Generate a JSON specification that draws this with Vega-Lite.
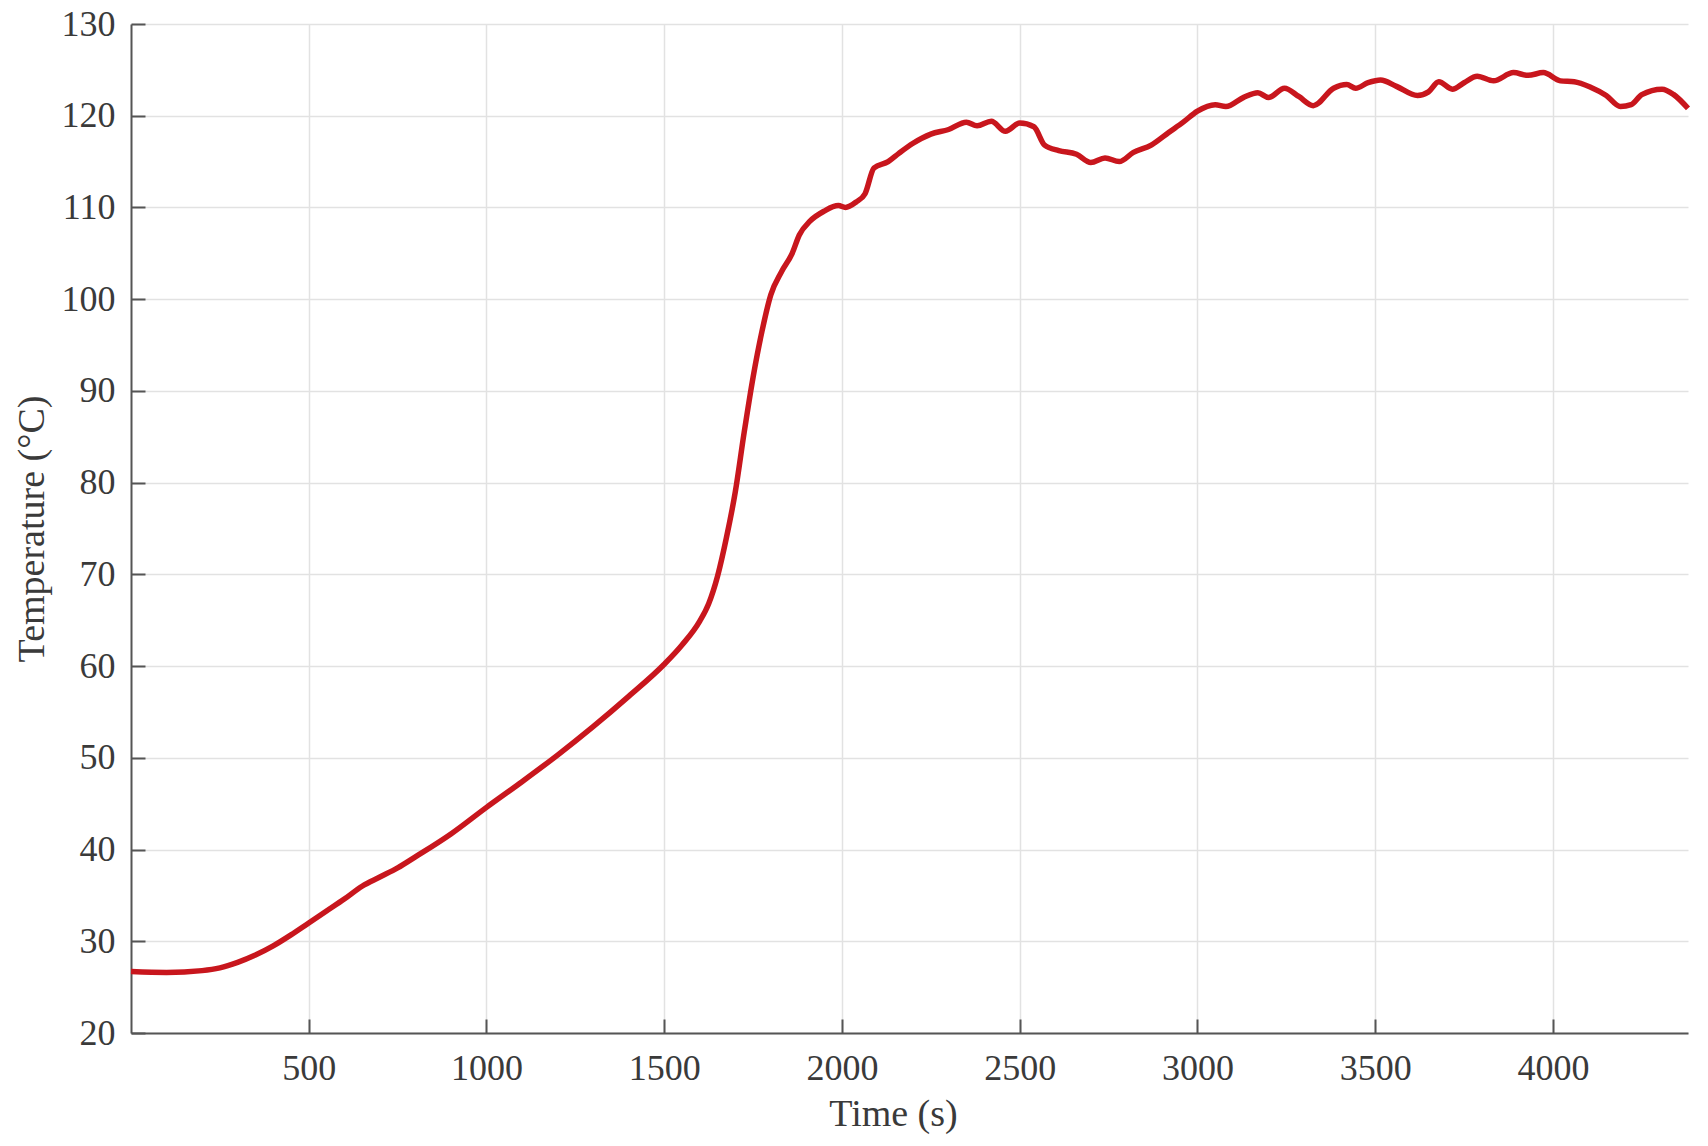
{
  "$schema": "https://vega.github.io/schema/vega-lite/v6.json",
  "autosize": "none",
  "padding": {"left": 131, "top": 24, "right": 20, "bottom": 113},
  "width": 1557,
  "height": 1009,
  "background": "white",
  "config": {
    "view": {"stroke": null},
    "axis": {
      "labelFont": "Liberation Serif",
      "titleFont": "Liberation Serif",
      "labelFontSize": 36,
      "titleFontSize": 38,
      "labelColor": "#3a3a3a",
      "titleColor": "#3a3a3a",
      "titleFontWeight": "normal",
      "domainColor": "#555555",
      "domainWidth": 2,
      "tickColor": "#555555",
      "tickWidth": 2,
      "tickSize": -14,
      "gridColor": "#e2e2e2",
      "gridWidth": 1.5
    }
  },
  "data": {
    "values": [
      {"t": 0, "T": 26.7}, {"t": 100, "T": 26.6}, {"t": 200, "T": 26.8}, {"t": 250, "T": 27.1},
      {"t": 300, "T": 27.7}, {"t": 350, "T": 28.5}, {"t": 400, "T": 29.5}, {"t": 450, "T": 30.7},
      {"t": 500, "T": 32.0}, {"t": 550, "T": 33.3}, {"t": 600, "T": 34.6}, {"t": 650, "T": 36.0},
      {"t": 700, "T": 37.0}, {"t": 750, "T": 38.0}, {"t": 800, "T": 39.2}, {"t": 900, "T": 41.7},
      {"t": 1000, "T": 44.6}, {"t": 1100, "T": 47.4}, {"t": 1200, "T": 50.3}, {"t": 1300, "T": 53.4},
      {"t": 1400, "T": 56.7}, {"t": 1500, "T": 60.2}, {"t": 1550, "T": 62.3}, {"t": 1600, "T": 64.9},
      {"t": 1625, "T": 66.8}, {"t": 1650, "T": 69.8}, {"t": 1675, "T": 74.0}, {"t": 1700, "T": 79.0},
      {"t": 1725, "T": 85.5}, {"t": 1750, "T": 91.5}, {"t": 1775, "T": 96.5}, {"t": 1800, "T": 100.5},
      {"t": 1830, "T": 103.0}, {"t": 1860, "T": 105.0}, {"t": 1880, "T": 107.0}, {"t": 1910, "T": 108.5},
      {"t": 1950, "T": 109.6}, {"t": 1990, "T": 110.2}, {"t": 2010, "T": 110.0}, {"t": 2040, "T": 110.6},
      {"t": 2065, "T": 111.5}, {"t": 2090, "T": 114.3}, {"t": 2130, "T": 115.0}, {"t": 2160, "T": 115.9},
      {"t": 2200, "T": 117.0}, {"t": 2250, "T": 118.0}, {"t": 2300, "T": 118.5}, {"t": 2350, "T": 119.3},
      {"t": 2380, "T": 118.9}, {"t": 2420, "T": 119.4}, {"t": 2460, "T": 118.3}, {"t": 2500, "T": 119.2},
      {"t": 2540, "T": 118.8}, {"t": 2570, "T": 116.8}, {"t": 2610, "T": 116.2}, {"t": 2660, "T": 115.8},
      {"t": 2700, "T": 114.9}, {"t": 2740, "T": 115.4}, {"t": 2780, "T": 115.0}, {"t": 2820, "T": 116.0},
      {"t": 2870, "T": 116.8}, {"t": 2920, "T": 118.2}, {"t": 2960, "T": 119.3}, {"t": 3000, "T": 120.5},
      {"t": 3050, "T": 121.2}, {"t": 3080, "T": 121.0}, {"t": 3130, "T": 122.0}, {"t": 3170, "T": 122.5},
      {"t": 3200, "T": 122.0}, {"t": 3245, "T": 123.0}, {"t": 3285, "T": 122.1}, {"t": 3326, "T": 121.1},
      {"t": 3383, "T": 123.0}, {"t": 3420, "T": 123.4}, {"t": 3445, "T": 123.0}, {"t": 3480, "T": 123.6},
      {"t": 3515, "T": 123.9}, {"t": 3560, "T": 123.2}, {"t": 3619, "T": 122.2}, {"t": 3650, "T": 122.6},
      {"t": 3679, "T": 123.7}, {"t": 3717, "T": 122.9}, {"t": 3750, "T": 123.6}, {"t": 3787, "T": 124.3},
      {"t": 3833, "T": 123.8}, {"t": 3889, "T": 124.7}, {"t": 3930, "T": 124.4}, {"t": 3973, "T": 124.7},
      {"t": 4021, "T": 123.8}, {"t": 4060, "T": 123.7}, {"t": 4106, "T": 123.1}, {"t": 4150, "T": 122.2},
      {"t": 4190, "T": 121.0}, {"t": 4220, "T": 121.2}, {"t": 4250, "T": 122.3}, {"t": 4307, "T": 122.9},
      {"t": 4340, "T": 122.3}, {"t": 4380, "T": 120.8}
    ]
  },
  "mark": {"type": "line", "color": "#c8161d", "strokeWidth": 5.5, "interpolate": "monotone"},
  "encoding": {
    "x": {
      "field": "t", "type": "quantitative", "title": "Time (s)",
      "scale": {"domain": [0, 4380], "nice": false, "zero": false},
      "axis": {"values": [500, 1000, 1500, 2000, 2500, 3000, 3500, 4000], "format": "d", "labelPadding": 32, "titlePadding": 9, "titleX": 762}
    },
    "y": {
      "field": "T", "type": "quantitative", "title": "Temperature (°C)",
      "scale": {"domain": [20, 130], "nice": false, "zero": false},
      "axis": {"values": [20, 30, 40, 50, 60, 70, 80, 90, 100, 110, 120, 130], "format": "d", "labelPadding": 30, "titlePadding": 10}
    }
  }
}
